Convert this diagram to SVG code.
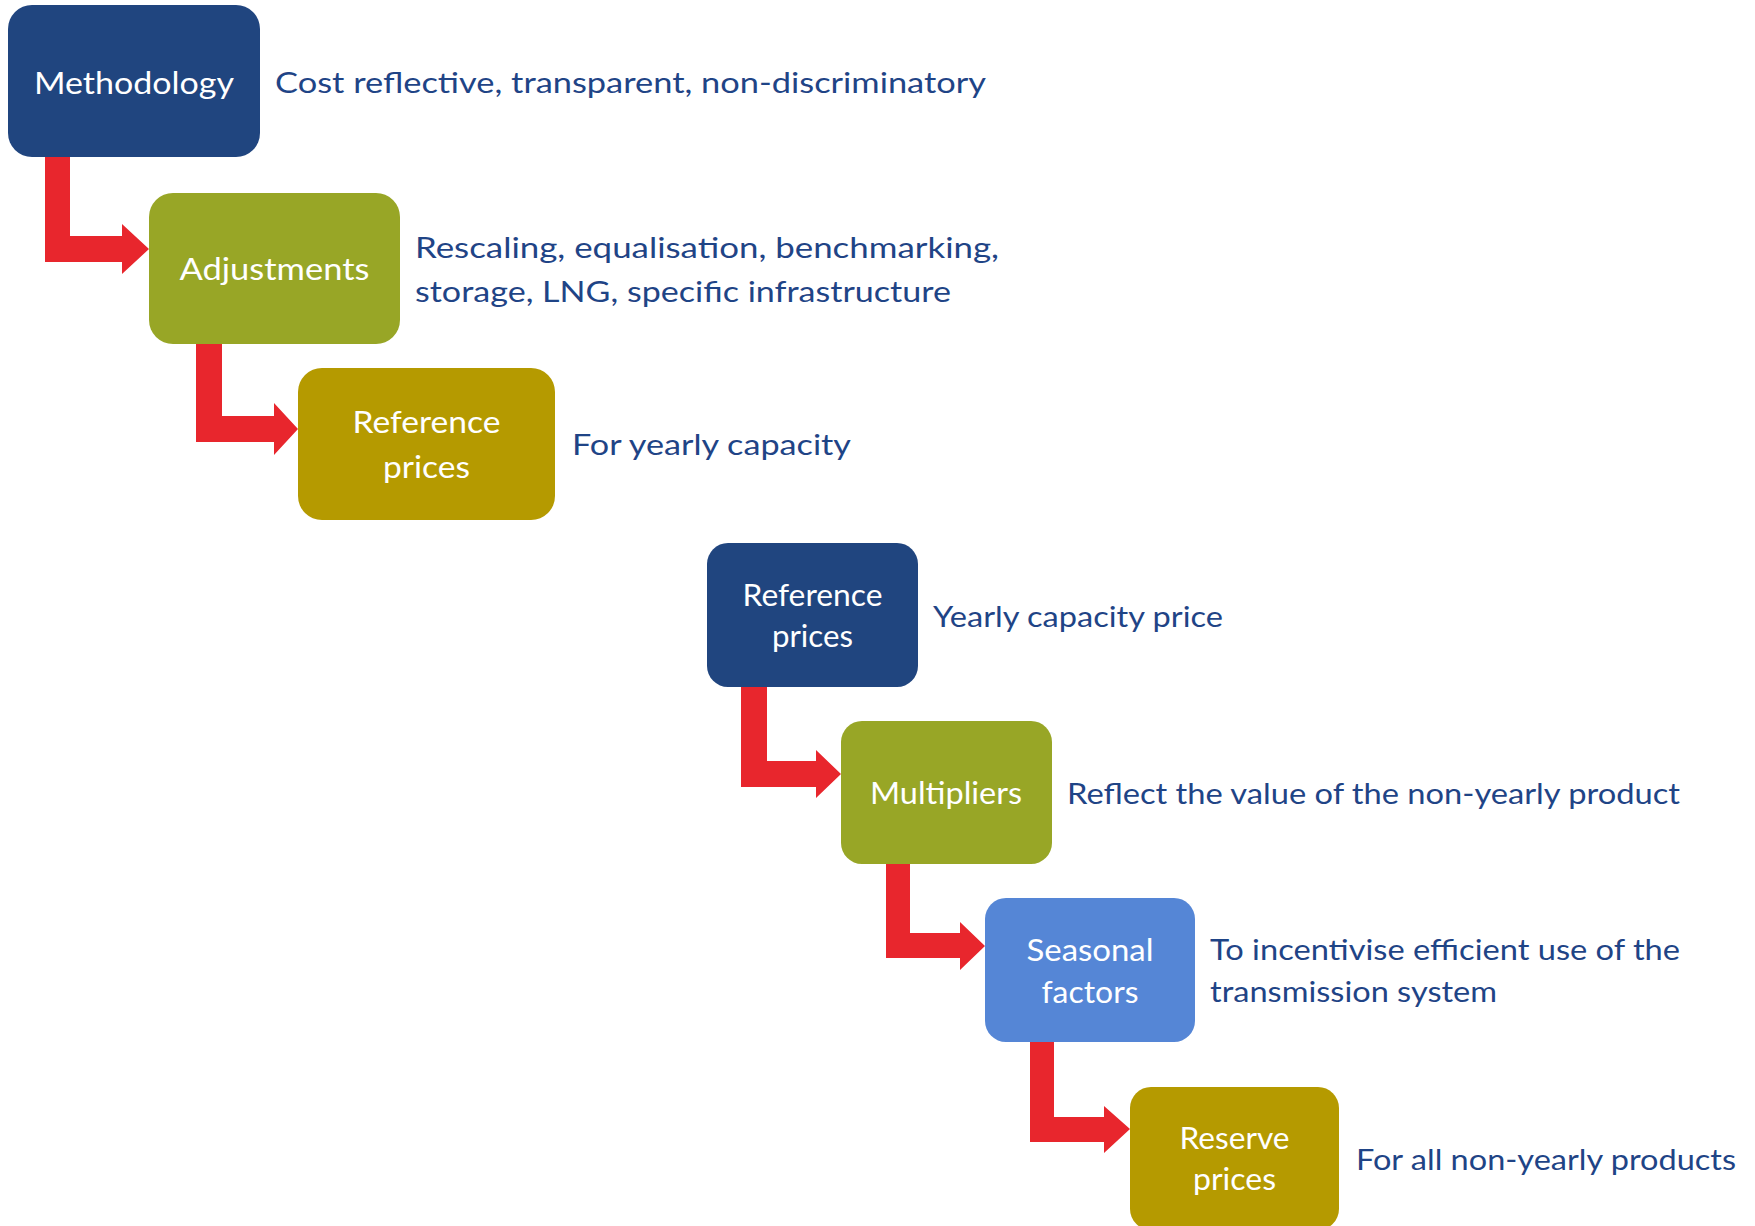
<svg xmlns="http://www.w3.org/2000/svg" width="1755" height="1226" viewBox="0 0 1755 1226">
<style>
.navy{fill:#20457F}
.olive{fill:#98A626}
.gold{fill:#B59A00}
.sky{fill:#5586D6}
.arrow{fill:#E8262D}
.lbl{font-family:Lato,"Open Sans","Liberation Sans",sans-serif;fill:#ffffff;text-anchor:middle;font-size:31px}
.lbl2{font-family:Lato,"Open Sans","Liberation Sans",sans-serif;fill:#ffffff;text-anchor:middle;font-size:30px}
.desc{font-family:Lato,"Open Sans","Liberation Sans",sans-serif;fill:#1F4486;font-size:29px}
</style>
<rect width="1755" height="1226" fill="#ffffff"/>
<g id="connectors">
<polygon class="arrow" points="45,155 70,155 70,236 122,236 122,224 149,249 122,274 122,262 45,262"/>
<polygon class="arrow" points="196,342 222,342 222,416 274,416 274,403 298,429 274,455 274,442 196,442"/>
<polygon class="arrow" points="741,685 767,685 767,761 816,761 816,750 841,774 816,798 816,787 741,787"/>
<polygon class="arrow" points="886,862 910,862 910,933 960,933 960,922 985,946 960,970 960,958 886,958"/>
<polygon class="arrow" points="1030,1040 1054,1040 1054,1117 1104,1117 1104,1106 1130,1129 1104,1153 1104,1142 1030,1142"/>
</g>
<g id="methodology">
<rect class="navy" x="8" y="5" width="252" height="152" rx="24"/>
<text class="lbl" x="134" y="94" textLength="200" lengthAdjust="spacingAndGlyphs">Methodology</text>
<text class="desc" x="275" y="93" textLength="711" lengthAdjust="spacingAndGlyphs">Cost reflective, transparent, non-discriminatory</text>
</g>
<g id="adjustments">
<rect class="olive" x="149" y="193" width="251" height="151" rx="24"/>
<text class="lbl" x="274.5" y="280" textLength="190" lengthAdjust="spacingAndGlyphs">Adjustments</text>
<text class="desc" x="415" y="258" textLength="584" lengthAdjust="spacingAndGlyphs">Rescaling, equalisation, benchmarking,</text>
<text class="desc" x="415" y="302" textLength="536" lengthAdjust="spacingAndGlyphs">storage, LNG, specific infrastructure</text>
</g>
<g id="reference-prices-1">
<rect class="gold" x="298" y="368" width="257" height="152" rx="24"/>
<text class="lbl" x="426.5" y="433" textLength="148" lengthAdjust="spacingAndGlyphs">Reference</text>
<text class="lbl" x="426.5" y="478" textLength="87" lengthAdjust="spacingAndGlyphs">prices</text>
<text class="desc" x="572" y="455" textLength="279" lengthAdjust="spacingAndGlyphs">For yearly capacity</text>
</g>
<g id="reference-prices-2">
<rect class="navy" x="707" y="543" width="211" height="144" rx="21"/>
<text class="lbl2" x="812.5" y="606" textLength="140" lengthAdjust="spacingAndGlyphs">Reference</text>
<text class="lbl2" x="812.5" y="647" textLength="81" lengthAdjust="spacingAndGlyphs">prices</text>
<text class="desc" x="933" y="627" textLength="290" lengthAdjust="spacingAndGlyphs">Yearly capacity price</text>
</g>
<g id="multipliers">
<rect class="olive" x="841" y="721" width="211" height="143" rx="21"/>
<text class="lbl2" x="946" y="804" textLength="152" lengthAdjust="spacingAndGlyphs">Multipliers</text>
<text class="desc" x="1067" y="804" textLength="613" lengthAdjust="spacingAndGlyphs">Reflect the value of the non-yearly product</text>
</g>
<g id="seasonal-factors">
<rect class="sky" x="985" y="898" width="210" height="144" rx="21"/>
<text class="lbl2" x="1090" y="961" textLength="127" lengthAdjust="spacingAndGlyphs">Seasonal</text>
<text class="lbl2" x="1090" y="1003" textLength="97" lengthAdjust="spacingAndGlyphs">factors</text>
<text class="desc" x="1210" y="960" textLength="470" lengthAdjust="spacingAndGlyphs">To incentivise efficient use of the</text>
<text class="desc" x="1210" y="1002" textLength="287" lengthAdjust="spacingAndGlyphs">transmission system</text>
</g>
<g id="reserve-prices">
<rect class="gold" x="1130" y="1087" width="209" height="143" rx="21"/>
<text class="lbl2" x="1234.5" y="1149" textLength="110" lengthAdjust="spacingAndGlyphs">Reserve</text>
<text class="lbl2" x="1234.5" y="1190" textLength="83" lengthAdjust="spacingAndGlyphs">prices</text>
<text class="desc" x="1356" y="1170" textLength="380" lengthAdjust="spacingAndGlyphs">For all non-yearly products</text>
</g>
</svg>
